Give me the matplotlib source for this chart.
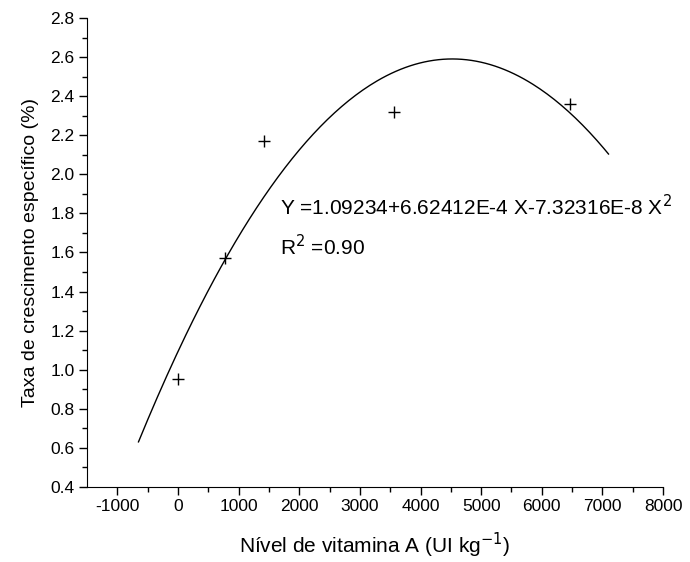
import numpy as np
import matplotlib.pyplot as plt

plt.rcParams['font.family'] = ['Liberation Sans', 'DejaVu Sans']

# measured points
vit_a = [0, 780, 1420, 3570, 6470]
growth = [0.95, 1.57, 2.17, 2.32, 2.36]

# fitted quadratic shown on the chart (highest power first)
coef = [-7.32316e-8, 6.62412e-4, 1.09234]
fit_range = (-650, 7100)

fig = plt.figure(figsize=(6.9, 5.62), dpi=100)
ax = fig.add_axes([0.126, 0.1335, 0.835, 0.8345])

xs = np.linspace(fit_range[0], fit_range[1], 200)
ax.plot(xs, np.polyval(coef, xs), color='black', lw=1)
ax.plot(vit_a, growth, '+', color='black', ms=8, mew=1)

ax.text(1680, 1.835, 'Y =1.09234+6.62412E-4 X-7.32316E-8 X$^2$', fontsize=15, va='center')
ax.text(1680, 1.63, 'R$^2$ =0.90', fontsize=15, va='center')

ax.set_xlim(-1500, 8000)
ax.set_ylim(0.4, 2.8)
ax.set_xticks(range(-1000, 8001, 1000))
ax.set_xticks(range(-500, 8000, 1000), minor=True)
ax.set_yticks(np.arange(0.4, 2.81, 0.2))
ax.set_yticks(np.arange(0.5, 2.8, 0.2), minor=True)
ax.set_yticklabels([f'{v:.1f}' for v in np.arange(0.4, 2.81, 0.2)])
ax.set_xticklabels([str(v) for v in range(-1000, 8001, 1000)])

ax.spines['top'].set_visible(False)
ax.spines['right'].set_visible(False)
ax.tick_params(which='major', direction='out', length=6, width=1, labelsize=12.5, pad=3)
ax.tick_params(which='minor', direction='out', length=3.5, width=1)

ax.set_xlabel('Nível de vitamina A (UI kg$^{-1}$)', fontsize=15, labelpad=12)
ax.set_ylabel('Taxa de crescimento específico (%)', fontsize=14, labelpad=8)

fig.savefig('out.png')
